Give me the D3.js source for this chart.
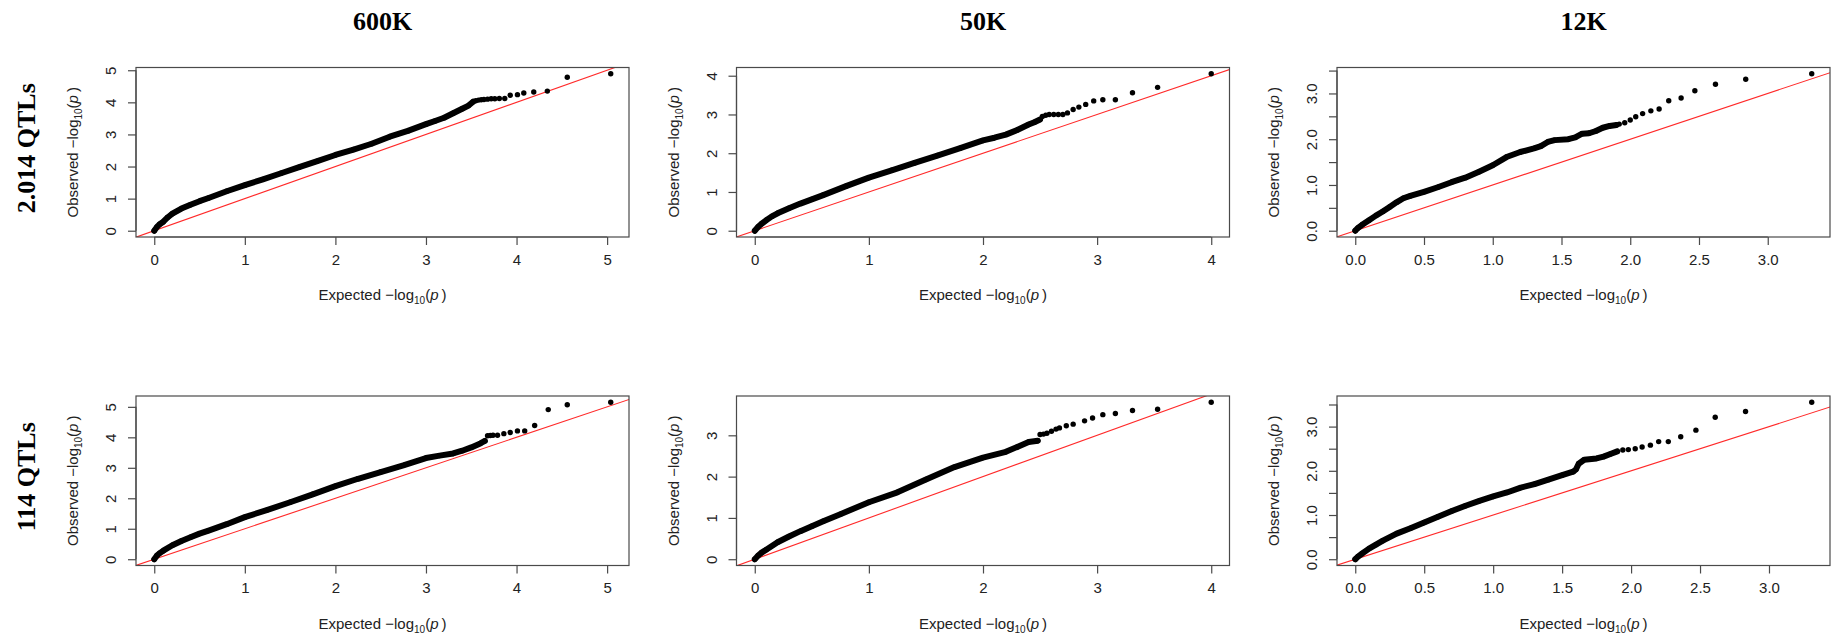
<!DOCTYPE html>
<html>
<head>
<meta charset="utf-8">
<script src="https://cdn.jsdelivr.net/npm/d3@7"></script>
<style>
  body { margin: 0; background: #fff; }
  svg text { fill: #222; }
</style>
</head>
<body>
<svg id="chart" width="1832" height="637"></svg>
<script>
// ---- labels ----
const columnTitles = ["600K", "50K", "12K"];
const rowTitles = ["2.014 QTLs", "114 QTLs"];

// ---- axis ticks (x per column, y per panel) ----
const xTicks600k = [0, 1, 2, 3, 4, 5];
const xTicks50k = [0, 1, 2, 3, 4];
const xTicks12k = [0, 0.5, 1, 1.5, 2, 2.5, 3];
const xLabels12k = ["0.0", "0.5", "1.0", "1.5", "2.0", "2.5", "3.0"];

const yTicksA = [0, 1, 2, 3, 4, 5];
const yTicksB = [0, 1, 2, 3, 4];
const yTicksC = [0, 0.5, 1, 1.5, 2, 2.5, 3, 3.5];
const yLabelsC = ["0.0", "", "1.0", "", "2.0", "", "3.0", ""];
const yTicksD = [0, 1, 2, 3];

// ---- QQ points: [expected -log10(p), observed -log10(p)] ----
// "dense" = overlapping run of points, "tail" = separately visible points

// 2.014 QTLs, 600K
const dense600kA = [[0,0],[0.03,0.12],[0.06,0.2],[0.1,0.28],[0.15,0.42],[0.2,0.53],[0.3,0.69],[0.4,0.81],[0.5,0.92],[0.6,1.02],[0.8,1.23],[1.0,1.42],[1.2,1.60],[1.4,1.79],[1.6,1.98],[1.8,2.17],[2.0,2.36],[2.2,2.53],[2.4,2.71],[2.6,2.93],[2.8,3.11],[3.0,3.32],[3.1,3.42],[3.2,3.52],[3.3,3.66],[3.4,3.80],[3.47,3.90],[3.52,4.02]];
const tail600kA = [[3.55,4.05],[3.58,4.07],[3.61,4.08],[3.64,4.09],[3.68,4.10],[3.72,4.11],[3.76,4.11],[3.81,4.12],[3.87,4.12],[3.93,4.22],[4.01,4.24],[4.08,4.29],[4.19,4.32],[4.34,4.35],[4.56,4.78],[5.04,4.89]];

// 2.014 QTLs, 50K
const dense50kA = [[0,0],[0.03,0.1],[0.06,0.18],[0.1,0.27],[0.15,0.37],[0.2,0.45],[0.3,0.58],[0.4,0.70],[0.5,0.81],[0.6,0.92],[0.8,1.15],[1.0,1.37],[1.2,1.56],[1.4,1.75],[1.6,1.94],[1.8,2.13],[2.0,2.33],[2.1,2.40],[2.2,2.48],[2.3,2.60],[2.4,2.74],[2.45,2.80],[2.5,2.87]];
const tail50kA = [[2.52,2.95],[2.55,2.98],[2.58,3.0],[2.62,3.0],[2.66,3.0],[2.70,3.0],[2.74,3.04],[2.79,3.13],[2.84,3.19],[2.90,3.26],[2.97,3.35],[3.05,3.38],[3.16,3.38],[3.31,3.56],[3.53,3.70],[4.0,4.05]];

// 2.014 QTLs, 12K
const dense12kA = [[0,0],[0.02,0.06],[0.05,0.13],[0.1,0.23],[0.15,0.33],[0.2,0.42],[0.25,0.52],[0.3,0.62],[0.35,0.71],[0.4,0.76],[0.5,0.85],[0.6,0.95],[0.7,1.06],[0.8,1.16],[0.9,1.29],[1.0,1.43],[1.1,1.61],[1.2,1.72],[1.3,1.80],[1.35,1.85],[1.4,1.94],[1.45,1.98],[1.55,2.0],[1.6,2.04],[1.65,2.12],[1.7,2.13],[1.75,2.18],[1.8,2.25],[1.85,2.29],[1.9,2.31]];
const tail12kA = [[1.92,2.33],[1.96,2.36],[2.0,2.42],[2.04,2.49],[2.09,2.56],[2.15,2.62],[2.21,2.66],[2.28,2.84],[2.37,2.90],[2.47,3.06],[2.62,3.20],[2.84,3.31],[3.32,3.43]];

// 114 QTLs, 600K
const dense600kB = [[0,0],[0.03,0.12],[0.06,0.2],[0.1,0.28],[0.2,0.46],[0.3,0.60],[0.4,0.72],[0.5,0.84],[0.6,0.94],[0.8,1.15],[1.0,1.38],[1.25,1.62],[1.5,1.87],[1.75,2.13],[2.0,2.40],[2.25,2.64],[2.5,2.86],[2.75,3.08],[3.0,3.32],[3.15,3.40],[3.3,3.47],[3.4,3.56],[3.5,3.67],[3.6,3.80],[3.65,3.88]];
const tail600kB = [[3.68,4.05],[3.71,4.06],[3.74,4.07],[3.79,4.07],[3.86,4.12],[3.93,4.16],[4.01,4.21],[4.09,4.21],[4.20,4.39],[4.35,4.91],[4.56,5.07],[5.04,5.15]];

// 114 QTLs, 50K
const dense50kB = [[0,0],[0.03,0.09],[0.06,0.16],[0.1,0.23],[0.2,0.41],[0.3,0.55],[0.4,0.68],[0.5,0.80],[0.6,0.92],[0.75,1.09],[1.0,1.38],[1.25,1.62],[1.5,1.93],[1.75,2.23],[2.0,2.46],[2.2,2.60],[2.3,2.72],[2.4,2.84],[2.48,2.87]];
const tail50kB = [[2.50,3.02],[2.53,3.03],[2.56,3.05],[2.60,3.10],[2.64,3.15],[2.67,3.18],[2.73,3.23],[2.79,3.27],[2.89,3.35],[2.96,3.42],[3.05,3.50],[3.16,3.53],[3.31,3.60],[3.53,3.63],[4.0,3.80]];

// 114 QTLs, 12K
const dense12kB = [[0,0],[0.02,0.06],[0.05,0.13],[0.1,0.24],[0.15,0.33],[0.2,0.42],[0.3,0.58],[0.4,0.70],[0.5,0.83],[0.6,0.96],[0.7,1.09],[0.8,1.21],[0.9,1.32],[1.0,1.42],[1.1,1.51],[1.2,1.62],[1.3,1.70],[1.4,1.80],[1.5,1.90],[1.58,1.98],[1.6,2.03],[1.62,2.16],[1.66,2.25],[1.75,2.28],[1.8,2.32],[1.85,2.38],[1.9,2.44]];
const tail12kB = [[1.94,2.47],[1.98,2.48],[2.03,2.50],[2.08,2.54],[2.14,2.58],[2.20,2.66],[2.27,2.66],[2.36,2.77],[2.47,2.92],[2.61,3.21],[2.83,3.34],[3.31,3.55]];

// ---- panel wiring ----
const columnXTicks = [
  { values: xTicks600k, labels: xTicks600k.map(String) },
  { values: xTicks50k, labels: xTicks50k.map(String) },
  { values: xTicks12k, labels: xLabels12k }
];

const panels = [
  { row: 0, col: 0, dense: dense600kA, tail: tail600kA, yValues: yTicksA, yLabels: yTicksA.map(String) },
  { row: 0, col: 1, dense: dense50kA, tail: tail50kA, yValues: yTicksB, yLabels: yTicksB.map(String) },
  { row: 0, col: 2, dense: dense12kA, tail: tail12kA, yValues: yTicksC, yLabels: yLabelsC },
  { row: 1, col: 0, dense: dense600kB, tail: tail600kB, yValues: yTicksA, yLabels: yTicksA.map(String) },
  { row: 1, col: 1, dense: dense50kB, tail: tail50kB, yValues: yTicksD, yLabels: yTicksD.map(String) },
  { row: 1, col: 2, dense: dense12kB, tail: tail12kB, yValues: yTicksC, yLabels: yLabelsC }
];

// ---- layout ----
const colLeft = [136, 736.5, 1337];
const rowTop = [67.5, 396];
const boxW = 493;
const boxH = 169.5;
const tickLen = 8;
const FONT = "'Liberation Sans', Arial, sans-serif";
const SERIF = "'Liberation Serif', 'Times New Roman', serif";
const LINE_COLOR = "#4a4a4a";

const svg = d3.select("#chart");

// column titles
columnTitles.forEach((t, i) => {
  svg.append("text")
    .attr("x", colLeft[i] + boxW / 2)
    .attr("y", 30)
    .attr("text-anchor", "middle")
    .style("font-family", SERIF)
    .style("font-weight", "bold")
    .style("font-size", "26px")
    .style("fill", "#000")
    .text(t);
});

// row titles (vertical)
rowTitles.forEach((t, i) => {
  const cy = rowTop[i] + boxH / 2 - 4;
  svg.append("text")
    .attr("transform", `translate(35,${cy}) rotate(-90)`)
    .attr("text-anchor", "middle")
    .style("font-family", SERIF)
    .style("font-weight", "bold")
    .style("font-size", "26px")
    .style("fill", "#000")
    .text(t);
});

// axis title with -log10(p) expression
function mathTitle(sel, lead) {
  sel.append("tspan").text(lead + " \u2212log");
  sel.append("tspan").attr("dy", 4).style("font-size", "10px").text("10");
  sel.append("tspan").attr("dy", -4).text("(");
  sel.append("tspan").style("font-style", "italic").text("p");
  sel.append("tspan").text("\u2009)");
}

// extend a [0, max] domain by 4% on each side
function padded(maxVal) {
  const pad = maxVal * 0.04;
  return [-pad, maxVal + pad];
}

panels.forEach((p, idx) => {
  const x0 = colLeft[p.col];
  const y0 = rowTop[p.row];
  const all = p.dense.concat(p.tail);
  const maxE = d3.max(all, d => d[0]);
  const maxO = d3.max(all, d => d[1]);

  const x = d3.scaleLinear().domain(padded(maxE)).range([x0, x0 + boxW]);
  const y = d3.scaleLinear().domain(padded(maxO)).range([y0 + boxH, y0]);

  const g = svg.append("g");

  const clipId = "clip" + idx;
  svg.append("clipPath").attr("id", clipId)
    .append("rect").attr("x", x0).attr("y", y0).attr("width", boxW).attr("height", boxH);

  // y = x reference line
  const lo = Math.min(x.domain()[0], y.domain()[0]);
  const hi = Math.max(x.domain()[1], y.domain()[1]);
  g.append("line")
    .attr("clip-path", `url(#${clipId})`)
    .attr("x1", x(lo)).attr("y1", y(lo))
    .attr("x2", x(hi)).attr("y2", y(hi))
    .attr("stroke", "#ff2a2a")
    .attr("stroke-width", 1.1);

  // dense run of points
  const line = d3.line().x(d => x(d[0])).y(d => y(d[1]));
  g.append("path")
    .datum(p.dense)
    .attr("d", line)
    .attr("fill", "none")
    .attr("stroke", "#000")
    .attr("stroke-width", 6)
    .attr("stroke-linecap", "round")
    .attr("stroke-linejoin", "round");

  g.selectAll("circle.pt")
    .data(all)
    .join("circle")
    .attr("class", "pt")
    .attr("cx", d => x(d[0]))
    .attr("cy", d => y(d[1]))
    .attr("r", 2.7)
    .attr("fill", "#000");

  // frame
  g.append("rect")
    .attr("x", x0).attr("y", y0)
    .attr("width", boxW).attr("height", boxH)
    .attr("fill", "none")
    .attr("stroke", LINE_COLOR)
    .attr("stroke-width", 1.2);

  // x axis
  const xt = columnXTicks[p.col];
  const xAxis = d3.axisBottom(x)
    .tickValues(xt.values)
    .tickFormat((d, i) => xt.labels[i])
    .tickSize(tickLen)
    .tickPadding(9);
  const gx = g.append("g").attr("transform", `translate(0,${y0 + boxH})`).call(xAxis);
  gx.select(".domain")
    .attr("d", `M${x(xt.values[0])},0H${x(xt.values[xt.values.length - 1])}`)
    .attr("stroke", LINE_COLOR).attr("stroke-width", 1.2);
  gx.selectAll(".tick line").attr("stroke", LINE_COLOR).attr("stroke-width", 1.2);
  gx.selectAll(".tick text")
    .style("font-family", FONT).style("font-size", "15px").style("fill", "#222");

  // y axis (labels parallel to the axis)
  const yAxis = d3.axisLeft(y)
    .tickValues(p.yValues)
    .tickFormat((d, i) => p.yLabels[i])
    .tickSize(tickLen);
  const gy = g.append("g").attr("transform", `translate(${x0},0)`).call(yAxis);
  gy.select(".domain")
    .attr("d", `M0,${y(p.yValues[0])}V${y(p.yValues[p.yValues.length - 1])}`)
    .attr("stroke", LINE_COLOR).attr("stroke-width", 1.2);
  gy.selectAll(".tick line").attr("stroke", LINE_COLOR).attr("stroke-width", 1.2);
  gy.selectAll(".tick text")
    .attr("x", null).attr("dy", null)
    .attr("transform", "translate(-20,0) rotate(-90)")
    .attr("text-anchor", "middle")
    .style("font-family", FONT).style("font-size", "15px").style("fill", "#222");

  // axis titles
  const xt2 = g.append("text")
    .attr("x", x0 + boxW / 2)
    .attr("y", y0 + boxH + 63)
    .attr("text-anchor", "middle")
    .style("font-family", FONT).style("font-size", "15px");
  mathTitle(xt2, "Expected");

  const yt2 = g.append("text")
    .attr("transform", `translate(${x0 - 58},${y0 + boxH / 2}) rotate(-90)`)
    .attr("text-anchor", "middle")
    .style("font-family", FONT).style("font-size", "15px");
  mathTitle(yt2, "Observed");
});
</script>
</body>
</html>
